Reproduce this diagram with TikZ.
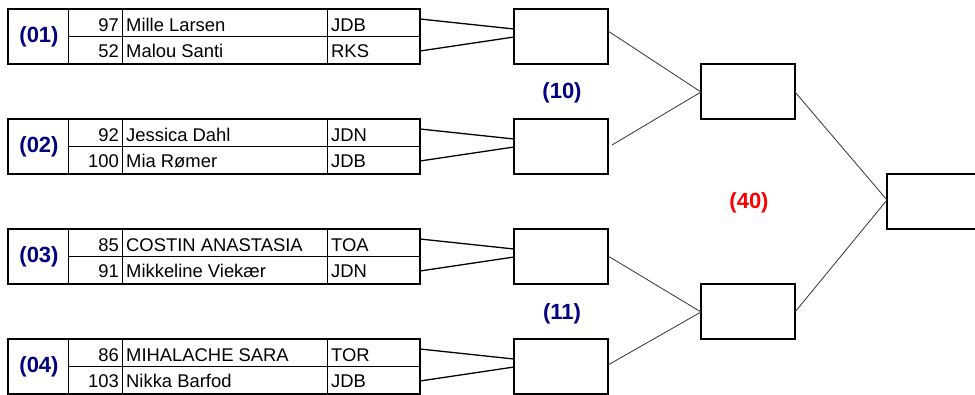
\documentclass[tikz,border=0pt]{standalone}
\usepackage{fontspec}
\setmainfont{Liberation Sans}
\usetikzlibrary{calc}
\definecolor{navy}{RGB}{0,0,128}
\definecolor{seedred}{RGB}{255,0,0}
\begin{document}
\begin{tikzpicture}[x=1pt,y=-1pt,
  blockbox/.style={draw, line width=2.4pt, minimum width=412pt, minimum height=55pt, anchor=north west, inner sep=0pt, outer sep=0pt},
  matchbox/.style={draw, line width=2.4pt, minimum width=94pt, minimum height=55pt, anchor=north west, inner sep=0pt, outer sep=0pt},
  divline/.style={line width=1pt},
  feed/.style={line width=1.3pt},
  advance/.style={line width=0.8pt, draw=black!80},
  seedlbl/.style={font=\fontsize{22}{22}\selectfont\bfseries, text=navy, inner sep=0pt},
  redlbl/.style={font=\fontsize{22}{22}\selectfont\bfseries, text=seedred, inner sep=0pt},
  rowtxt/.style={font=\fontsize{18.4}{18}\selectfont, inner sep=0pt},
]
\fill[white] (0,0) rectangle (975,394);
\useasboundingbox (0,0) rectangle (975,394);
\clip (0,0) rectangle (975,394);

\foreach \k/\T/\sa/\na/\ca/\sb/\nb/\cb in {
  1/9/97/Mille Larsen/JDB/52/Malou Santi/RKS,
  2/119/92/Jessica Dahl/JDN/100/Mia Rømer/JDB,
  3/229/85/COSTIN ANASTASIA/TOA/91/Mikkeline Viekær/JDN,
  4/339/86/MIHALACHE SARA/TOR/103/Nikka Barfod/JDB}{
  \node[blockbox] (blk\k) at (8,\T) {};
  \draw[divline] ($(blk\k.north west)+(60,0)$) -- ($(blk\k.south west)+(60,0)$);
  \draw[divline] ($(blk\k.north west)+(114,0)$) -- ($(blk\k.south west)+(114,0)$);
  \draw[divline] ($(blk\k.north west)+(319,0)$) -- ($(blk\k.south west)+(319,0)$);
  \draw[divline] ($(blk\k.west)+(60,0)$) -- (blk\k.east);
  \node[seedlbl] (seed\k) at ($(blk\k.west)+(31,0.5)$) {(0\k)};
  \node[rowtxt, anchor=base east] (na\k) at ($(blk\k.north west)+(111,22.7)$) {\sa};
  \node[rowtxt, anchor=base west] (pa\k) at ($(blk\k.north west)+(118,22.7)$) {\na};
  \node[rowtxt, anchor=base west] (ca\k) at ($(blk\k.north west)+(323,22.7)$) {\ca};
  \node[rowtxt, anchor=base east] (nb\k) at ($(blk\k.north west)+(111,48.5)$) {\sb};
  \node[rowtxt, anchor=base west] (pb\k) at ($(blk\k.north west)+(118,48.5)$) {\nb};
  \node[rowtxt, anchor=base west] (cb\k) at ($(blk\k.north west)+(323,48.5)$) {\cb};
  \node[matchbox] (m\k) at (514,\T) {};
  \draw[feed] ($(blk\k.north east)+(0,10)$) -- ($(m\k.north west)+(0,20)$);
  \draw[feed] ($(blk\k.north east)+(0,42)$) -- ($(m\k.north west)+(0,28)$);
}

\node[matchbox] (sA) at (701,64) {};
\node[matchbox] (sB) at (701,284) {};
\node[matchbox, minimum width=110pt] (fin) at (887,174) {};

\draw[advance] ($(m1.north east)+(0,22)$) -- ($(sA.north west)+(0,28)$);
\draw[advance] ($(m2.north east)+(4,26)$) -- ($(sA.north west)+(0,28)$);
\draw[advance] ($(m3.north east)+(0,27)$) -- ($(sB.north west)+(0,28)$);
\draw[advance] ($(m4.north east)+(0,26)$) -- ($(sB.north west)+(0,28)$);
\draw[advance] ($(sA.north east)+(0,28)$) -- ($(fin.north west)+(0,26)$);
\draw[advance] ($(sB.north east)+(0,28)$) -- ($(fin.north west)+(0,26)$);

\node[seedlbl] (lbl10) at (562,93) {(10)};
\node[seedlbl] (lbl11) at (562,314) {(11)};
\node[redlbl] (lbl40) at (749,203) {(40)};
\end{tikzpicture}
\end{document}
